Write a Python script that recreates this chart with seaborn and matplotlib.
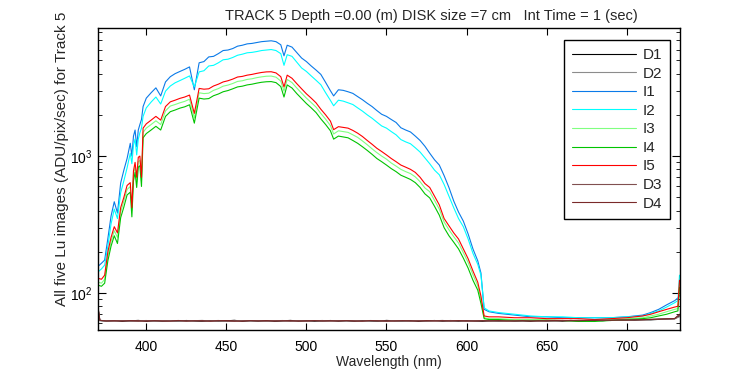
import matplotlib
matplotlib.use("Agg")
import matplotlib.pyplot as plt
import seaborn as sns
from matplotlib.ticker import LogLocator

# ----------------------------------------------------------
# Data
# ----------------------------------------------------------
wl = [370, 372, 374, 376, 378, 380, 382, 384, 386, 388,
      390, 391, 392, 393, 394, 395, 396, 397, 398, 400,
      403, 406, 409, 412, 415, 418, 421, 424, 427, 430,
      433, 436, 439, 442, 445, 448, 451, 454, 457, 460,
      463, 466, 469, 472, 475, 478, 481, 484, 486, 488,
      491, 494, 497, 500, 503, 506, 509, 512, 515, 517,
      520, 523, 526, 529, 532, 535, 538, 541, 544, 547,
      550, 553, 556, 559, 562, 565, 568, 571, 574, 577,
      580, 583, 586, 589, 592, 595, 598, 601, 604, 607,
      609, 611, 614, 620, 630, 640, 650, 660, 670, 680,
      690, 700, 710, 715, 720, 725, 730, 732, 733]

i1 = [157, 165, 174, 250, 365, 464, 384, 636, 790, 960,
      1240, 1000, 1400, 1550, 1170, 1550, 1700, 1850, 2300, 2650,
      2900, 3150, 2750, 3480, 3800, 4000, 4150, 4300, 4480, 3050,
      4800, 4900, 5300, 5350, 5600, 5900, 5950, 6100, 6350, 6450,
      6600, 6650, 6750, 6850, 6900, 6950, 6850, 6500, 5400, 6450,
      6250, 5700, 5200, 4900, 4550, 4250, 3950, 3450, 3000, 2750,
      3050, 3020, 2950, 2870, 2720, 2580, 2430, 2300, 2150, 2020,
      1950, 1850, 1760, 1610, 1550, 1500, 1400, 1300, 1180, 1050,
      940, 860, 720, 590, 470, 390, 335, 270, 210, 172,
      140, 76, 73, 71, 69, 67, 67, 66, 66, 66,
      66, 67, 69, 72, 76, 82, 88, 92, 96]

i2 = [143, 150, 160, 220, 320, 410, 350, 540, 660, 820,
      1050, 880, 1200, 1330, 1020, 1330, 1480, 1600, 1950, 2250,
      2480, 2700, 2400, 2980, 3250, 3430, 3560, 3700, 3850, 3200,
      4120, 4200, 4550, 4600, 4800, 5050, 5100, 5250, 5450, 5550,
      5680, 5720, 5800, 5900, 5950, 6000, 5900, 5600, 4600, 5500,
      5350, 4850, 4400, 4150, 3850, 3580, 3320, 2900, 2550, 2330,
      2560, 2520, 2450, 2380, 2250, 2130, 2000, 1890, 1770, 1660,
      1600, 1510, 1430, 1320, 1270, 1230, 1150, 1070, 970, 880,
      790, 730, 620, 510, 420, 350, 305, 248, 195, 162,
      135, 78, 74, 72, 70, 68, 67, 67, 66, 66,
      66, 67, 68, 71, 74, 79, 85, 88, 135]

i3 = [120, 118, 126, 185, 238, 285, 255, 390, 470, 570,
      600, 400, 730, 840, 650, 910, 930, 660, 1490, 1600,
      1700, 1810, 1700, 2140, 2320, 2380, 2450, 2510, 2600, 1900,
      2900, 2860, 2880, 3020, 3110, 3240, 3300, 3390, 3510, 3550,
      3630, 3670, 3740, 3790, 3830, 3840, 3770, 3530, 2980, 3630,
      3440, 3140, 2880, 2650, 2460, 2280, 2050, 1860, 1670, 1450,
      1530, 1510, 1490, 1430, 1370, 1290, 1210, 1130, 1060, 1000,
      950, 890, 845, 800, 770, 745, 705, 650, 585, 550,
      475, 410, 330, 290, 258, 232, 197, 167, 136, 113,
      90, 66, 65, 65, 64, 64, 64, 63, 63, 63,
      64, 65, 66, 68, 70, 73, 76, 77, 118]

i4 = [114, 112, 118, 172, 220, 262, 230, 355, 425, 520,
      545, 360, 660, 760, 590, 830, 850, 600, 1360, 1460,
      1550, 1650, 1550, 1950, 2110, 2170, 2240, 2290, 2370, 1740,
      2650, 2610, 2630, 2760, 2840, 2950, 3010, 3100, 3200, 3240,
      3310, 3350, 3410, 3460, 3490, 3500, 3440, 3220, 2700, 3310,
      3140, 2860, 2630, 2420, 2250, 2080, 1870, 1700, 1530, 1330,
      1400, 1380, 1360, 1300, 1240, 1170, 1100, 1030, 960, 910,
      860, 810, 770, 725, 700, 675, 640, 590, 530, 495,
      430, 370, 300, 262, 235, 210, 180, 152, 124, 105,
      84, 65, 64, 64, 63, 63, 63, 63, 62, 62,
      63, 64, 65, 66, 68, 70, 73, 74, 110]

i5 = [128, 126, 135, 200, 255, 305, 275, 420, 500, 610,
      640, 420, 780, 900, 700, 980, 1000, 700, 1600, 1720,
      1830, 1950, 1830, 2300, 2490, 2560, 2640, 2700, 2790, 2050,
      3120, 3080, 3100, 3250, 3350, 3480, 3550, 3650, 3780, 3820,
      3900, 3950, 4020, 4080, 4120, 4130, 4050, 3800, 3200, 3900,
      3700, 3380, 3100, 2850, 2650, 2450, 2200, 2000, 1800, 1560,
      1640, 1620, 1600, 1540, 1470, 1390, 1300, 1220, 1140, 1080,
      1020, 960, 910, 860, 830, 800, 760, 700, 630, 590,
      510, 440, 350, 310, 275, 248, 210, 178, 145, 120,
      95, 68, 67, 67, 66, 66, 65, 65, 65, 64,
      65, 66, 68, 70, 73, 76, 79, 80, 124]

# dark frames, on their own coarser wavelength grid
wl_dark = [370, 371, 375, 380, 385, 390, 395, 400, 405, 410,
           415, 420, 425, 430, 435, 440, 445, 450, 455, 460,
           465, 470, 475, 480, 485, 490, 495, 500, 505, 510,
           515, 520, 525, 530, 535, 540, 545, 550, 555, 560,
           565, 570, 575, 580, 585, 590, 595, 600, 605, 610,
           615, 620, 625, 630, 635, 640, 645, 650, 655, 660,
           665, 670, 675, 680, 685, 690, 695, 700, 705, 710,
           715, 720, 725, 730, 733]

d1 = [75, 63.0, 62.4, 62.9, 62.1, 62.6, 63.1, 62.2, 62.7, 62.0,
      62.8, 62.3, 63.0, 62.5, 62.1, 62.9, 62.4, 62.6, 63.2, 62.2,
      62.7, 62.3, 62.9, 62.0, 62.6, 63.1, 62.4, 62.8, 62.2, 62.5,
      63.0, 62.3, 62.7, 62.1, 62.9, 62.5, 62.2, 63.1, 62.6, 62.4,
      62.8, 62.1, 62.6, 63.0, 62.3, 62.7, 62.2, 62.9, 62.5, 62.1,
      62.8, 62.4, 63.0, 62.3, 62.6, 62.2, 62.9, 62.5, 62.8, 62.3,
      63.1, 62.6, 62.9, 63.2, 62.8, 63.4, 63.1, 63.6, 63.3, 63.9,
      63.7, 64.2, 64.6, 64.9, 68]

d2 = [74, 62.8, 62.2, 62.7, 62.9, 62.3, 62.6, 63.0, 62.1, 62.5,
      62.9, 62.4, 62.2, 62.8, 63.1, 62.3, 62.7, 62.1, 62.6, 62.9,
      62.4, 62.8, 62.2, 62.6, 63.0, 62.3, 62.7, 62.5, 62.9, 62.1,
      62.6, 62.9, 62.4, 62.8, 62.2, 63.0, 62.6, 62.3, 62.8, 62.5,
      62.2, 62.9, 62.4, 62.6, 63.1, 62.2, 62.8, 62.4, 62.7, 62.9,
      62.3, 62.6, 62.9, 62.4, 62.8, 63.0, 62.5, 62.7, 62.3, 62.9,
      62.6, 63.0, 63.2, 62.9, 63.3, 63.0, 63.5, 63.4, 63.8, 63.6,
      64.0, 64.4, 64.3, 64.8, 67]

d3 = [76, 63.1, 62.6, 62.3, 62.8, 62.5, 62.1, 62.9, 62.6, 62.4,
      62.2, 62.8, 62.5, 62.9, 62.3, 62.7, 63.0, 62.4, 62.1, 62.7,
      62.9, 62.5, 62.3, 62.8, 62.6, 62.2, 62.9, 62.4, 62.7, 63.0,
      62.4, 62.7, 62.9, 62.3, 62.6, 62.8, 62.5, 62.2, 62.9, 62.7,
      62.5, 62.8, 62.3, 62.7, 62.5, 63.0, 62.6, 62.3, 62.8, 62.6,
      62.9, 62.5, 62.2, 62.8, 62.5, 62.7, 62.3, 62.9, 62.6, 63.0,
      62.8, 63.2, 62.9, 63.4, 63.1, 63.5, 63.3, 63.7, 63.5, 64.0,
      64.1, 64.5, 64.7, 65.0, 69]

d4 = [77, 63.2, 62.5, 62.8, 62.4, 62.9, 62.7, 62.3, 62.8, 62.6,
      62.5, 63.0, 62.4, 62.6, 62.8, 62.2, 62.7, 62.9, 62.5, 62.3,
      62.8, 62.6, 62.9, 62.4, 62.7, 62.8, 62.3, 62.6, 62.9, 62.4,
      62.7, 62.5, 62.8, 62.6, 62.3, 62.9, 62.7, 62.5, 62.4, 62.8,
      62.6, 62.4, 62.9, 62.5, 62.8, 62.4, 62.9, 62.6, 62.4, 62.8,
      62.5, 62.9, 62.6, 62.5, 62.9, 62.4, 62.8, 62.6, 63.0, 62.7,
      62.9, 62.7, 63.1, 63.0, 63.4, 63.2, 63.6, 63.4, 63.8, 63.7,
      64.2, 64.4, 64.8, 65.1, 70]

series = [
    ("D1", wl_dark, d1, "#000000"),
    ("D2", wl_dark, d2, "#8c8c8c"),
    ("I1", wl, i1, "#0a7ae8"),
    ("I2", wl, i2, "#00ffff"),
    ("I3", wl, i3, "#80ff80"),
    ("I4", wl, i4, "#00c400"),
    ("I5", wl, i5, "#ff0000"),
    ("D3", wl_dark, d3, "#805050"),
    ("D4", wl_dark, d4, "#7a2a2a"),
]

# ----------------------------------------------------------
# Style
# ----------------------------------------------------------
sns.set_style("ticks")
plt.rcParams["font.family"] = ["Liberation Sans", "DejaVu Sans"]
plt.rcParams["mathtext.fontset"] = "custom"
plt.rcParams["mathtext.rm"] = "Liberation Sans"

fig = plt.figure(figsize=(7.5, 3.75), dpi=100)
ax = fig.add_axes([0.131, 0.12, 0.775, 0.805])

for name, x, y, col in series:
    sns.lineplot(x=x, y=y, color=col, label=name, ax=ax, linewidth=0.8)

ax.set_yscale("log")
ax.set_xlim(370, 733)
ax.set_ylim(53.7, 8600)
ax.set_xticks([400, 450, 500, 550, 600, 650, 700])
ax.yaxis.set_minor_locator(LogLocator(base=10, subs=range(2, 10)))

ax.tick_params(which="both", direction="in", top=True, right=True,
               colors="black", labelsize=10)
ax.tick_params(axis="x", which="major", length=5, pad=7)
ax.tick_params(axis="y", which="major", length=6, pad=4)
ax.tick_params(axis="y", which="minor", length=3)
for sp in ax.spines.values():
    sp.set_visible(True)
    sp.set_color("black")
    sp.set_linewidth(1)

ax.set_xlabel("Wavelength (nm)", fontsize=10, labelpad=1)
ax.set_ylabel("All five Lu images (ADU/pix/sec) for Track 5", fontsize=11,
              loc="bottom")
ax.yaxis.set_label_coords(-0.05, 0.08)
ax.set_title("TRACK 5 Depth =0.00 (m) DISK size =7 cm   Int Time = 1 (sec)",
             fontsize=10.5, x=0.573, pad=6)

leg = ax.legend(loc="upper right", bbox_to_anchor=(0.984, 0.962),
                borderaxespad=0, fontsize=11, handlelength=4.2,
                handletextpad=0.4, labelspacing=0.3, borderpad=0.55,
                frameon=True, fancybox=False, framealpha=1,
                edgecolor="black")
leg.get_frame().set_linewidth(1)

fig.savefig("out.png", dpi=100)
